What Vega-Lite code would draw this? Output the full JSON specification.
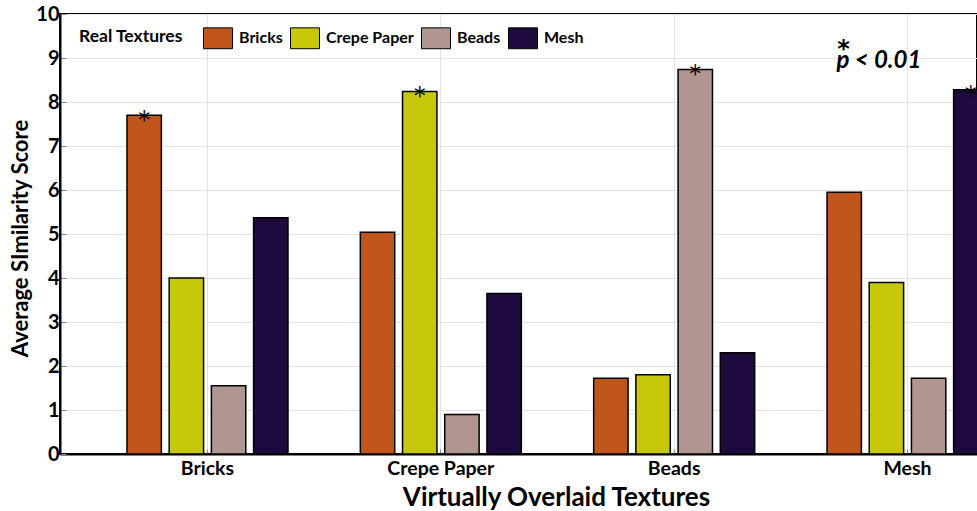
{
  "$schema": "https://vega.github.io/schema/vega-lite/v6.json",
  "autosize": {"type": "none"},
  "padding": {"left": 60, "top": 14, "right": 0, "bottom": 57},
  "width": 917,
  "height": 440,
  "background": "white",
  "config": {
    "font": "Lato",
    "view": {"stroke": "black", "strokeWidth": 2}
  },
  "datasets": {
    "bars": [
      {"Virtual": "Bricks", "Real": "Bricks", "value": 7.70, "sig": true},
      {"Virtual": "Bricks", "Real": "Crepe Paper", "value": 4.00, "sig": false},
      {"Virtual": "Bricks", "Real": "Beads", "value": 1.55, "sig": false},
      {"Virtual": "Bricks", "Real": "Mesh", "value": 5.37, "sig": false},
      {"Virtual": "Crepe Paper", "Real": "Bricks", "value": 5.04, "sig": false},
      {"Virtual": "Crepe Paper", "Real": "Crepe Paper", "value": 8.24, "sig": true},
      {"Virtual": "Crepe Paper", "Real": "Beads", "value": 0.90, "sig": false},
      {"Virtual": "Crepe Paper", "Real": "Mesh", "value": 3.65, "sig": false},
      {"Virtual": "Beads", "Real": "Bricks", "value": 1.72, "sig": false},
      {"Virtual": "Beads", "Real": "Crepe Paper", "value": 1.80, "sig": false},
      {"Virtual": "Beads", "Real": "Beads", "value": 8.74, "sig": true},
      {"Virtual": "Beads", "Real": "Mesh", "value": 2.30, "sig": false},
      {"Virtual": "Mesh", "Real": "Bricks", "value": 5.95, "sig": false},
      {"Virtual": "Mesh", "Real": "Crepe Paper", "value": 3.90, "sig": false},
      {"Virtual": "Mesh", "Real": "Beads", "value": 1.72, "sig": false},
      {"Virtual": "Mesh", "Real": "Mesh", "value": 8.28, "sig": true}
    ],
    "note": [
      {"Virtual": "Mesh", "value": 8.77, "label": "p < 0.01"}
    ],
    "star": [
      {"Virtual": "Mesh", "value": 9.02, "label": "*"}
    ]
  },
  "encoding": {
    "x": {
      "field": "Virtual",
      "type": "nominal",
      "sort": ["Bricks", "Crepe Paper", "Beads", "Mesh"],
      "scale": {"domain": ["Bricks", "Crepe Paper", "Beads", "Mesh"], "range": [0, 995], "paddingInner": 0.31, "paddingOuter": 0.287},
      "axis": {
        "title": "Virtually Overlaid Textures",
        "titleFont": "Lato",
        "titleFontSize": 26,
        "titleFontWeight": "bold",
        "titleColor": "black",
        "titleX": 496,
        "titleY": 51,
        "titleAlign": "center",
        "titleAnchor": null,
        "titleBaseline": "alphabetic",
        "labelAngle": 0,
        "labelFont": "Lato",
        "labelFontSize": 19.5,
        "labelFontWeight": "bold",
        "labelColor": "black",
        "labelPadding": 10,
        "domainColor": "black",
        "domainWidth": 2,
        "tickSize": -5,
        "tickColor": "#888888",
        "grid": true,
        "gridColor": "#e4e4e4",
        "bandPosition": 0.5
      }
    },
    "y": {
      "field": "value",
      "type": "quantitative",
      "scale": {"domain": [0, 10], "nice": false},
      "axis": {
        "title": "Average SImilarity Score",
        "titleFont": "Lato",
        "titleFontSize": 22,
        "titleFontWeight": "bold",
        "titleColor": "black",
        "titleX": -33,
        "titleY": 224,
        "titleAlign": "center",
        "titleAnchor": null,
        "titleBaseline": "alphabetic",
        "values": [0, 1, 2, 3, 4, 5, 6, 7, 8, 9, 10],
        "labelFont": "Lato",
        "labelFontSize": 20,
        "labelFontWeight": "bold",
        "labelColor": "black",
        "labelPadding": 7,
        "domainColor": "black",
        "domainWidth": 2,
        "tickSize": -6,
        "tickColor": "#888888",
        "grid": true,
        "gridColor": "#e4e4e4"
      }
    }
  },
  "layer": [
    {
      "data": {"name": "bars"},
      "mark": {"type": "bar", "stroke": "black", "strokeWidth": 1.5},
      "encoding": {
        "xOffset": {
          "field": "Real",
          "type": "nominal",
          "sort": ["Bricks", "Crepe Paper", "Beads", "Mesh"],
          "scale": {"domain": ["Bricks", "Crepe Paper", "Beads", "Mesh"], "paddingInner": 0.185, "paddingOuter": 0}
        },
        "color": {
          "field": "Real",
          "type": "nominal",
          "sort": ["Bricks", "Crepe Paper", "Beads", "Mesh"],
          "scale": {"domain": ["Bricks", "Crepe Paper", "Beads", "Mesh"], "range": ["#C0561B", "#C8C80A", "#B09590", "#1E0A3C"]},
          "legend": {
            "title": "Real Textures",
            "orient": "none",
            "legendX": 11,
            "legendY": 1,
            "direction": "horizontal",
            "titleOrient": "left",
            "titleFont": "Lato",
            "titleFontSize": 17.5,
            "titleFontWeight": "bold",
            "titleColor": "black",
            "titlePadding": 20,
            "labelFont": "Lato",
            "labelFontSize": 16,
            "labelFontWeight": "bold",
            "labelColor": "black",
            "labelOffset": 6,
            "columnPadding": 5,
            "symbolType": "M-1,-0.72H1V0.72H-1Z",
            "symbolSize": 841,
            "symbolStrokeColor": "black",
            "symbolStrokeWidth": 1,
            "symbolOpacity": 1,
            "padding": 8
          }
        }
      }
    },
    {
      "data": {"name": "bars"},
      "transform": [{"filter": "datum.sig"}],
      "mark": {"type": "text", "text": "*", "fontSize": 24, "font": "DejaVu Sans", "color": "black", "baseline": "alphabetic", "dy": 13},
      "encoding": {
        "xOffset": {
          "field": "Real",
          "type": "nominal",
          "sort": ["Bricks", "Crepe Paper", "Beads", "Mesh"]
        }
      }
    },
    {
      "data": {"name": "note"},
      "mark": {"type": "text", "fontSize": 24, "fontWeight": "bold", "fontStyle": "italic", "font": "Lato", "color": "black", "align": "left", "baseline": "alphabetic", "dx": -71},
      "encoding": {"text": {"field": "label"}}
    },
    {
      "data": {"name": "star"},
      "mark": {"type": "text", "fontSize": 24, "font": "DejaVu Sans", "fontWeight": "bold", "color": "black", "align": "center", "baseline": "alphabetic", "dx": -64},
      "encoding": {"text": {"field": "label"}}
    }
  ]
}
